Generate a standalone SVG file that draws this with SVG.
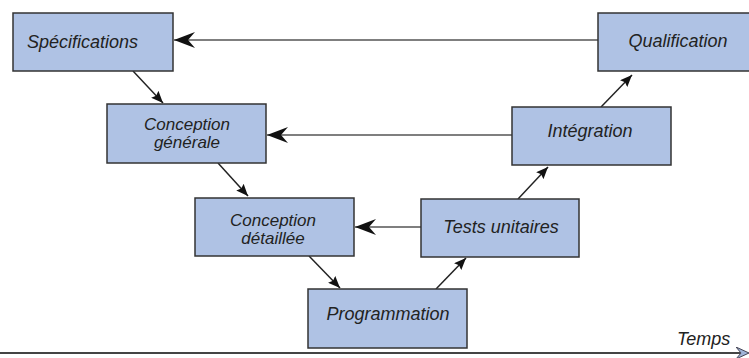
<svg xmlns="http://www.w3.org/2000/svg" width="749" height="358" viewBox="0 0 749 358">
<defs>
<marker id="big" markerUnits="userSpaceOnUse" markerWidth="22" markerHeight="16" refX="22" refY="8" orient="auto" viewBox="0 0 22 16">
<path d="M22,8 L1,0 L8,8 L1,16 Z" fill="#111"/>
</marker>
<marker id="small" markerUnits="userSpaceOnUse" markerWidth="12" markerHeight="10" refX="12" refY="5" orient="auto" viewBox="0 0 12 10">
<path d="M0,0 L12,5 L0,10 L2,5 Z" fill="#111"/>
</marker>
<marker id="axis" markerUnits="userSpaceOnUse" markerWidth="14" markerHeight="12" refX="4" refY="6" orient="auto" viewBox="0 0 14 12">
<path d="M0,0 L13,6 L0,12 L5,6 Z" fill="#9fb4d8" stroke="#445" stroke-width="1"/>
</marker>
</defs>
<style>
.box{fill:#afc2e4;stroke:#333;stroke-width:1.5}
.t{font-family:"Liberation Sans",Arial,sans-serif;font-style:italic;font-size:18px;fill:#222}
.c{text-anchor:middle}
.two{font-size:17px}
.h{stroke:#555;stroke-width:1.5;fill:none}
.d{stroke:#222;stroke-width:1.5;fill:none}
</style>
<rect width="749" height="358" fill="#fff"/>
<g id="connectors">
<line class="h" x1="598" y1="40" x2="174" y2="40" marker-end="url(#big)"/>
<line class="h" x1="512" y1="135" x2="267" y2="135" marker-end="url(#big)"/>
<line class="h" x1="421" y1="227" x2="355" y2="227" marker-end="url(#big)"/>
<line class="d" x1="133" y1="71" x2="163" y2="103" marker-end="url(#small)"/>
<line class="d" x1="218" y1="163" x2="248" y2="196" marker-end="url(#small)"/>
<line class="d" x1="309" y1="256" x2="340" y2="288" marker-end="url(#small)"/>
<line class="d" x1="436" y1="289" x2="466" y2="258" marker-end="url(#small)"/>
<line class="d" x1="518" y1="199" x2="548" y2="167" marker-end="url(#small)"/>
<line class="d" x1="601" y1="107" x2="632" y2="75" marker-end="url(#small)"/>
</g>
<g id="axis-time">
<line x1="0" y1="353" x2="740" y2="353" stroke="#444" stroke-width="2" marker-end="url(#axis)"/>
<text class="t" x="677" y="345" font-size="15">Temps</text>
</g>
<g id="specifications">
<rect class="box" x="13" y="13" width="160" height="58"/>
<text class="t" x="27" y="48">Spécifications</text>
</g>
<g id="conception-generale">
<rect class="box" x="107" y="104" width="159" height="59"/>
<text class="t c two" x="187" y="130">Conception</text>
<text class="t c two" x="187" y="148">générale</text>
</g>
<g id="conception-detaillee">
<rect class="box" x="195" y="198" width="159" height="58"/>
<text class="t c two" x="273" y="226">Conception</text>
<text class="t c two" x="273" y="244">détaillée</text>
</g>
<g id="programmation">
<rect class="box" x="308" y="289" width="159" height="59"/>
<text class="t c" x="388" y="320">Programmation</text>
</g>
<g id="tests-unitaires">
<rect class="box" x="421" y="199" width="158" height="58"/>
<text class="t c" x="501" y="233">Tests unitaires</text>
</g>
<g id="integration">
<rect class="box" x="512" y="107" width="159" height="58"/>
<text class="t c" x="590" y="137">Intégration</text>
</g>
<g id="qualification">
<rect class="box" x="598" y="13" width="160" height="58"/>
<text class="t c" x="678" y="47">Qualification</text>
</g>
</svg>
